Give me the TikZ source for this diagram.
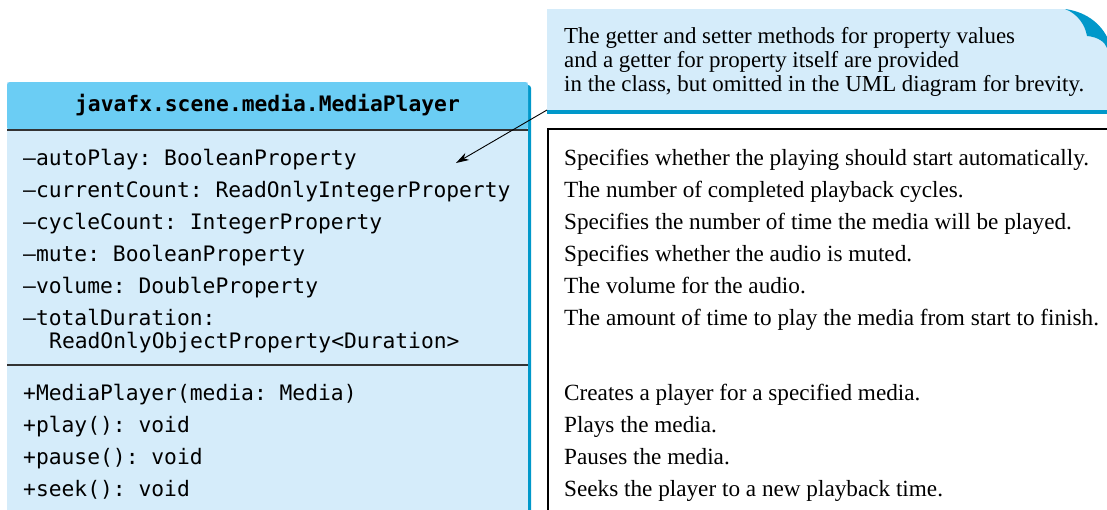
\documentclass[tikz,border=0pt]{standalone}
\usepackage{fontspec}
\setmainfont{Liberation Serif}
\setmonofont{DejaVu Sans Mono}
\usepackage{tikz}
\usetikzlibrary{arrows.meta,positioning,calc}
\usepackage{xcolor}
\definecolor{headblue}{HTML}{6BCDF4}
\definecolor{bodyblue}{HTML}{D5ECFA}
\definecolor{edgeblue}{HTML}{0098CA}
\definecolor{rulegray}{HTML}{333333}

\begin{document}
\begin{tikzpicture}[x=1pt,y=-1pt,
        umltext/.style={font=\ttfamily\fontsize{21.3}{24}\selectfont, anchor=base west, inner sep=0pt},
        desctext/.style={font=\fontsize{23.2}{24}\selectfont, anchor=base west, inner sep=0pt},
        notetext/.style={font=\fontsize{22.9}{24}\selectfont, anchor=base west, inner sep=0pt}]
            \useasboundingbox (0,0) rectangle (1107,509);

            % Class box (shadow, body, header)
            \fill[edgeblue, rounded corners=3pt] (10,85) rectangle (531,530);
            \fill[bodyblue] (7,82) rectangle (528,530);
            \fill[headblue, rounded corners=3pt] (7,130) -- (7,82) -- (528,82) -- (528,130) -- cycle;
            \draw[rulegray, line width=1.5pt] (7,130) -- (528,130);
            \draw[rulegray, line width=1.5pt] (7,365) -- (528,365);
            \node[font=\ttfamily\bfseries\fontsize{21.3}{24}\selectfont, anchor=base, inner sep=0pt]
                (className) at (267.5,111) {javafx.scene.media.MediaPlayer};

            % Attributes
            \node[umltext] (attrAutoPlay) at (23,165) {–autoPlay: BooleanProperty};
            \node[umltext] (attrCurrentCount) at (23,197) {–currentCount: ReadOnlyIntegerProperty};
            \node[umltext] (attrCycleCount) at (23,229) {–cycleCount: IntegerProperty};
            \node[umltext] (attrMute) at (23,261) {–mute: BooleanProperty};
            \node[umltext] (attrVolume) at (23,293) {–volume: DoubleProperty};
            \node[umltext] (attrTotalDuration) at (23,325) {–totalDuration:};
            \node[umltext] (attrTotalType) at (49,348) {ReadOnlyObjectProperty<Duration>};

            % Methods
            \node[umltext] (opConstructor) at (23,400) {+MediaPlayer(media: Media)};
            \node[umltext] (opPlay) at (23,432) {+play(): void};
            \node[umltext] (opPause) at (23,464) {+pause(): void};
            \node[umltext] (opSeek) at (23,496) {+seek(): void};

            % Description box
            \draw[black, line width=1.4pt] (1112,129) -- (548,129) -- (548,515);
            \node[desctext] (descAutoPlay) at (564,165) {Specifies whether the playing should start automatically.};
            \node[desctext] (descCurrentCount) at (564,197) {The number of completed playback cycles.};
            \node[desctext] (descCycleCount) at (564,229) {Specifies the number of time the media will be played.};
            \node[desctext] (descMute) at (564,261) {Specifies whether the audio is muted.};
            \node[desctext] (descVolume) at (564,293) {The volume for the audio.};
            \node[desctext] (descTotalDuration) at (564,325) {The amount of time to play the media from start to finish.};
            \node[desctext] (descConstructor) at (564,400) {Creates a player for a specified media.};
            \node[desctext] (descPlay) at (564,432) {Plays the media.};
            \node[desctext] (descPause) at (564,464) {Pauses the media.};
            \node[desctext] (descSeek) at (564,496) {Seeks the player to a new playback time.};

            % Note with curled corner
            \fill[bodyblue] (547,110) -- (547,9) -- (1065,9)
                .. controls (1078,14) and (1085,25) .. (1087,36)
                .. controls (1098,37) and (1105,42) .. (1107,48) -- (1107,110) -- cycle;
            \fill[edgeblue] (1065,9) .. controls (1088,12) and (1104,26) .. (1110,44)
                -- (1107,48) .. controls (1105,42) and (1098,37) .. (1087,36)
                .. controls (1085,25) and (1078,14) .. (1065,9) -- cycle;
            \fill[edgeblue] (547,110) rectangle (1110,114);
            \node[notetext] (noteLineA) at (564,43) {The getter and setter methods for property values};
            \node[notetext] (noteLineB) at (564,67) {and a getter for property itself are provided};
            \node[notetext] (noteLineC) at (564,91) {in the class, but omitted in the UML diagram for brevity.};

            % Pointer from note to attributes
            \coordinate (noteCorner) at (547,110);
            \coordinate (attrTip) at (456,163);
            \draw[-{Stealth[length=13pt,width=8pt,inset=4pt]}, line width=0.9pt] (noteCorner) -- (attrTip);
\end{tikzpicture}
\end{document}
